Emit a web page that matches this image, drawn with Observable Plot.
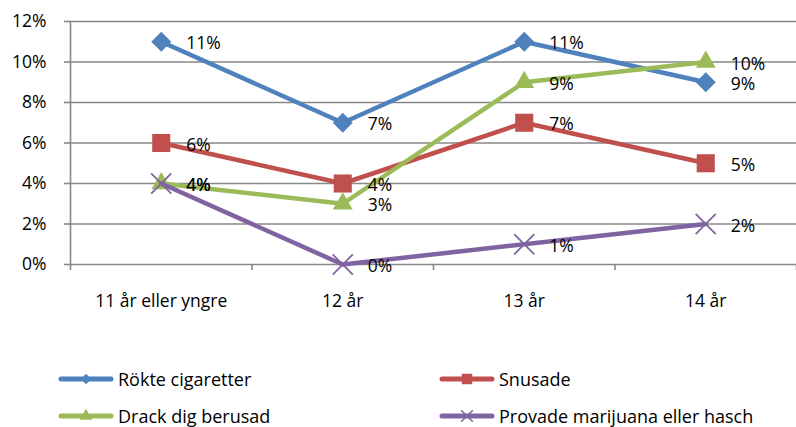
<!DOCTYPE html>
<html><head><meta charset="utf-8">
<script src="https://cdn.jsdelivr.net/npm/d3@7"></script>
<script src="https://cdn.jsdelivr.net/npm/@observablehq/plot@0.6"></script>
<style>
body{margin:0;background:#fff;font-family:"Open Sans", sans-serif;}
#wrap{position:relative;width:796px;height:427px;overflow:hidden;}
.leg{position:absolute;display:flex;align-items:center;font-size:18px;line-height:22px;color:#000;height:22px;}
.leg svg{display:block;margin-right:4px;}
</style></head><body><div id="wrap"></div>
<script>
const categories = ["11 år eller yngre", "12 år", "13 år", "14 år"];
const seriesNames = ["Rökte cigaretter", "Snusade", "Drack dig berusad", "Provade marijuana eller hasch"];
const rokteCigaretter = [0.11, 0.07, 0.11, 0.09];
const snusade = [0.06, 0.04, 0.07, 0.05];
const drackDigBerusad = [0.04, 0.03, 0.09, 0.10];
const provadeMarijuana = [0.04, 0.00, 0.01, 0.02];
const yTicks = [0, 0.02, 0.04, 0.06, 0.08, 0.10, 0.12];

const seriesValues = [rokteCigaretter, snusade, drackDigBerusad, provadeMarijuana];
const colors = ["#4F81BD", "#C0504D", "#9BBB59", "#8064A2"];
const symbols = ["diamond2", "square", "triangle", "times"];
const symbolR = [9.0, 10.2, 7.4, 9.2];
const gray = "#878787";
const pct = d3.format(".0%");
const font = "'Open Sans', sans-serif";

const rows = seriesNames.map((s, k) => categories.map((c, i) => ({series: s, k, i, v: seriesValues[k][i]})));
const allRows = rows.flat();
const boundaries = d3.range(categories.length + 1).map(i => i - 0.5);

const marks = [
  Plot.ruleY(yTicks, {stroke: gray, strokeWidth: 1.6}),
  Plot.ruleX([boundaries[0]], {stroke: gray, strokeWidth: 1.6}),
  Plot.axisY({ticks: yTicks, tickFormat: pct, tickSize: 6, tickPadding: 18, fontSize: 17.5, stroke: gray, strokeWidth: 1.6, label: null}),
  Plot.axisX({ticks: d3.range(categories.length), tickFormat: i => categories[i], tickSize: 0, tickPadding: 30, fontSize: 17.5, label: null}),
  Plot.axisX({ticks: boundaries, tickFormat: () => "", tickSize: 6, stroke: gray, strokeWidth: 1.6, label: null})
];
rows.forEach((r, k) => {
  marks.push(Plot.line(r, {x: "i", y: "v", stroke: colors[k], strokeWidth: 4.5}));
  if (symbols[k] === "times") {
    marks.push(Plot.dot(r, {x: "i", y: "v", symbol: "times", r: symbolR[k], stroke: colors[k], strokeWidth: 1.8}));
  } else {
    marks.push(Plot.dot(r, {x: "i", y: "v", symbol: symbols[k], r: symbolR[k], fill: colors[k], stroke: "none"}));
  }
});
marks.push(Plot.text(allRows, {x: "i", y: "v", text: d => pct(d.v), dx: 25, dy: 2, textAnchor: "start", fontSize: 17.5, fill: "#000"}));

const chart = Plot.plot({
  width: 796, height: 320,
  marginLeft: 70, marginRight: 0, marginTop: 21, marginBottom: 56,
  style: {fontFamily: font, background: "#fff", color: "#000"},
  x: {type: "linear", domain: [boundaries[0], boundaries[boundaries.length - 1]], axis: null},
  y: {domain: [0, 0.12], axis: null},
  marks
});
const wrap = document.getElementById("wrap");
wrap.appendChild(chart);

const legPos = [[58, 379], [439, 379], [58, 416], [439, 416]];
seriesNames.forEach((s, k) => {
  const div = document.createElement("div");
  div.className = "leg";
  div.style.left = legPos[k][0] + "px";
  div.style.top = (legPos[k][1] - 11) + "px";
  const svg = d3.create("svg").attr("width", 56).attr("height", 22);
  svg.append("line").attr("x1", 3).attr("x2", 53).attr("y1", 11).attr("y2", 11)
    .attr("stroke", colors[k]).attr("stroke-width", 5).attr("stroke-linecap", "round");
  const symMap = {diamond2: d3.symbolDiamond2, square: d3.symbolSquare, triangle: d3.symbolTriangle, times: d3.symbolTimes};
  const sizes = {diamond2: 70, square: 110, triangle: 70, times: 90};
  const p = svg.append("path").attr("transform", "translate(28,11)")
    .attr("d", d3.symbol(symMap[symbols[k]], sizes[symbols[k]])());
  if (symbols[k] === "times") p.attr("fill", "none").attr("stroke", colors[k]).attr("stroke-width", 1.5);
  else p.attr("fill", colors[k]);
  div.appendChild(svg.node());
  const t = document.createElement("span");
  t.textContent = s;
  div.appendChild(t);
  wrap.appendChild(div);
});
</script></body></html>
